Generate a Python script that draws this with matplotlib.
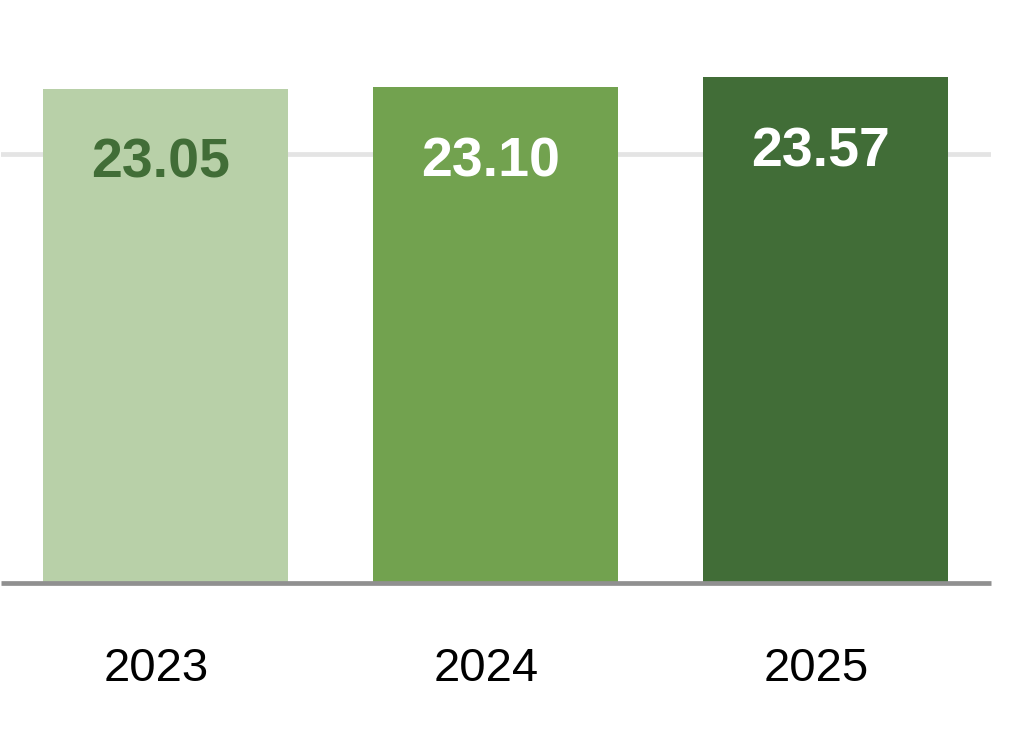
import matplotlib
matplotlib.use("Agg")
import matplotlib.pyplot as plt
from matplotlib.transforms import ScaledTranslation

years = ["2023", "2024", "2025"]
values = [23.05, 23.10, 23.57]
bar_colors = ["#b8d0a8", "#72a24f", "#416d37"]
label_colors = ["#416d37", "#ffffff", "#ffffff"]

plt.rcParams['font.family'] = ['Liberation Sans', 'DejaVu Sans']

fig = plt.figure(figsize=(10.32, 7.44), dpi=100)
ax = fig.add_axes([0.5/1032, (744-583)/744, 990/1032, (583-27)/744])

x = list(range(len(years)))
ax.bar(x, values, width=0.742, color=bar_colors, zorder=2)
ax.set_xlim(-0.5, 2.5)
ax.set_ylim(0, 25.92)

for xi, v, c in zip(x, values, label_colors):
    ax.annotate(f"{v:.2f}", xy=(xi, v), xytext=(-3.6, -54), textcoords="offset points",
                ha="center", va="center", fontsize=40, fontweight="bold", color=c, zorder=3)

ax.set_yticks([20])
ax.set_yticklabels([])
ax.tick_params(axis="y", length=0)
ax.yaxis.grid(True, color="#e4e4e4", linewidth=3.4, zorder=0)
ax.set_axisbelow(True)

ax.set_xticks(x)
ax.set_xticklabels(years, fontsize=34, color="#000000")
ax.tick_params(axis="x", length=0, pad=46)
offset = ScaledTranslation(-9/100, 0, fig.dpi_scale_trans)
for lab in ax.get_xticklabels():
    lab.set_transform(lab.get_transform() + offset)

for s in ["top", "left", "right"]:
    ax.spines[s].set_visible(False)
ax.spines["bottom"].set_color("#909090")
ax.spines["bottom"].set_linewidth(3.4)
ax.spines["bottom"].set_capstyle("butt")
ax.spines["bottom"].set_zorder(4)

fig.savefig("out.png", dpi=100, facecolor="white")
